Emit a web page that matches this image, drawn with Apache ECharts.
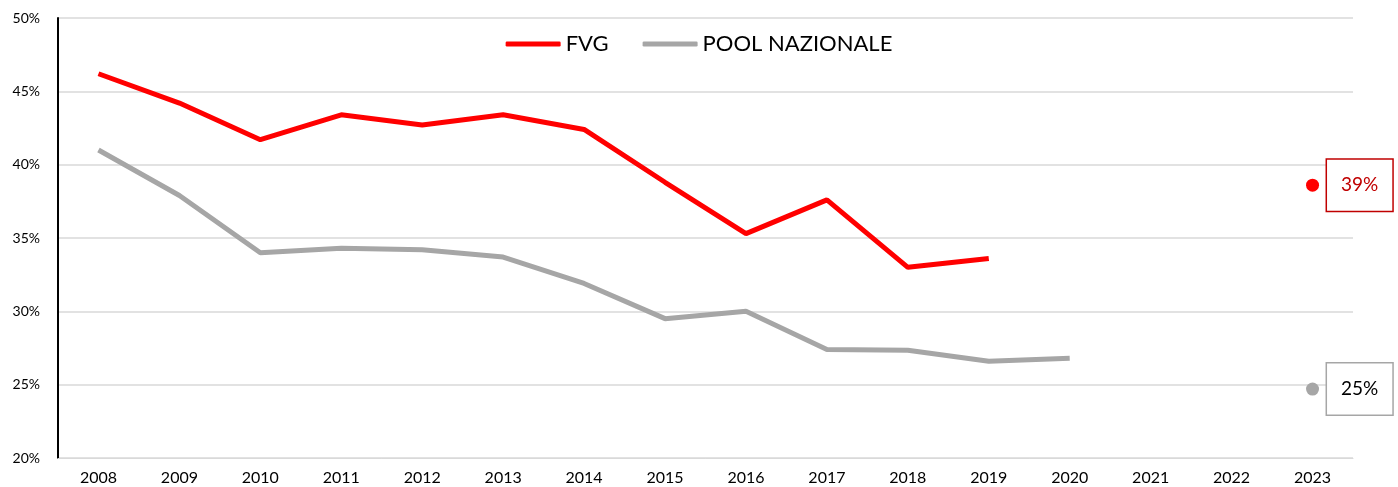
<!DOCTYPE html>
<html>
<head>
<meta charset="utf-8">
<script src="https://cdn.jsdelivr.net/npm/echarts@6/dist/echarts.min.js"></script>
<style>
  html, body { margin: 0; padding: 0; background: #fff; }
  #chart { width: 1398px; height: 487px; }
</style>
</head>
<body>
<div id="chart"></div>
<script>
// anni sull'asse x
const years = ['2008', '2009', '2010', '2011', '2012', '2013', '2014', '2015',
  '2016', '2017', '2018', '2019', '2020', '2021', '2022', '2023']
// valori in %
const fvg = [46.2, 44.2, 41.7, 43.4, 42.7, 43.4, 42.4, 38.8, 35.3, 37.6, 33.0, 33.6, null, null, null, null]
const pool = [41.0, 37.9, 34.0, 34.3, 34.2, 33.7, 31.9, 29.5, 30.0, 27.4, 27.35, 26.6, 26.8, null, null, null]
// obiettivi 2023
const fvgTarget = [null, null, null, null, null, null, null, null, null, null, null, null, null, null, null, 38.6]
const poolTarget = [null, null, null, null, null, null, null, null, null, null, null, null, null, null, null, 24.7]
const targetLabels = { fvg: '39%', pool: '25%' }

const font = 'Lato, "Open Sans", sans-serif'
const chart = echarts.init(document.getElementById('chart'))

const option = {
  animation: false,
  textStyle: { fontFamily: font },
  grid: { left: 58, right: 45, top: 18, bottom: 29 },
  legend: {
    top: 28,
    left: 'center',
    itemWidth: 55,
    itemHeight: 5,
    itemGap: 34,
    textStyle: { fontSize: 22, color: '#000', fontFamily: font },
    data: [
      { name: 'FVG', icon: 'roundRect' },
      { name: 'POOL NAZIONALE', icon: 'roundRect' }
    ]
  },
  xAxis: {
    type: 'category',
    data: years,
    boundaryGap: true,
    axisLine: { lineStyle: { color: '#d9d9d9', width: 1 } },
    axisTick: { show: false },
    axisLabel: { fontSize: 16, color: '#000', margin: 12 }
  },
  yAxis: {
    type: 'value',
    min: 20,
    max: 50,
    interval: 5,
    axisLine: { show: true, lineStyle: { color: '#000', width: 2 } },
    axisTick: { show: false },
    axisLabel: { formatter: '{value}%', fontSize: 14, color: '#000', margin: 18 },
    splitLine: { lineStyle: { color: '#d9d9d9', width: 1.5 } }
  },
  series: [
    {
      name: 'FVG',
      type: 'line',
      data: fvg,
      color: '#ff0000',
      showSymbol: false,
      lineStyle: { width: 5, color: '#ff0000' }
    },
    {
      name: 'POOL NAZIONALE',
      type: 'line',
      data: pool,
      color: '#a6a6a6',
      showSymbol: false,
      lineStyle: { width: 5, color: '#a6a6a6' }
    },
    {
      type: 'scatter',
      data: fvgTarget,
      symbolSize: 13,
      itemStyle: { color: '#ff0000', opacity: 1 },
      label: {
        show: true,
        position: 'right',
        distance: 8,
        formatter: targetLabels.fvg,
        color: '#c00000',
        fontSize: 19,
        borderColor: '#c00000',
        borderWidth: 1.5,
        padding: [17, 14, 15, 14],
        backgroundColor: '#fff'
      }
    },
    {
      type: 'scatter',
      data: poolTarget,
      symbolSize: 13,
      itemStyle: { color: '#a6a6a6', opacity: 1 },
      label: {
        show: true,
        position: 'right',
        distance: 8,
        formatter: targetLabels.pool,
        color: '#000',
        fontSize: 19,
        borderColor: '#a6a6a6',
        borderWidth: 1.5,
        padding: [17, 14, 15, 14],
        backgroundColor: '#fff'
      }
    }
  ]
}

chart.setOption(option)
</script>
</body>
</html>
